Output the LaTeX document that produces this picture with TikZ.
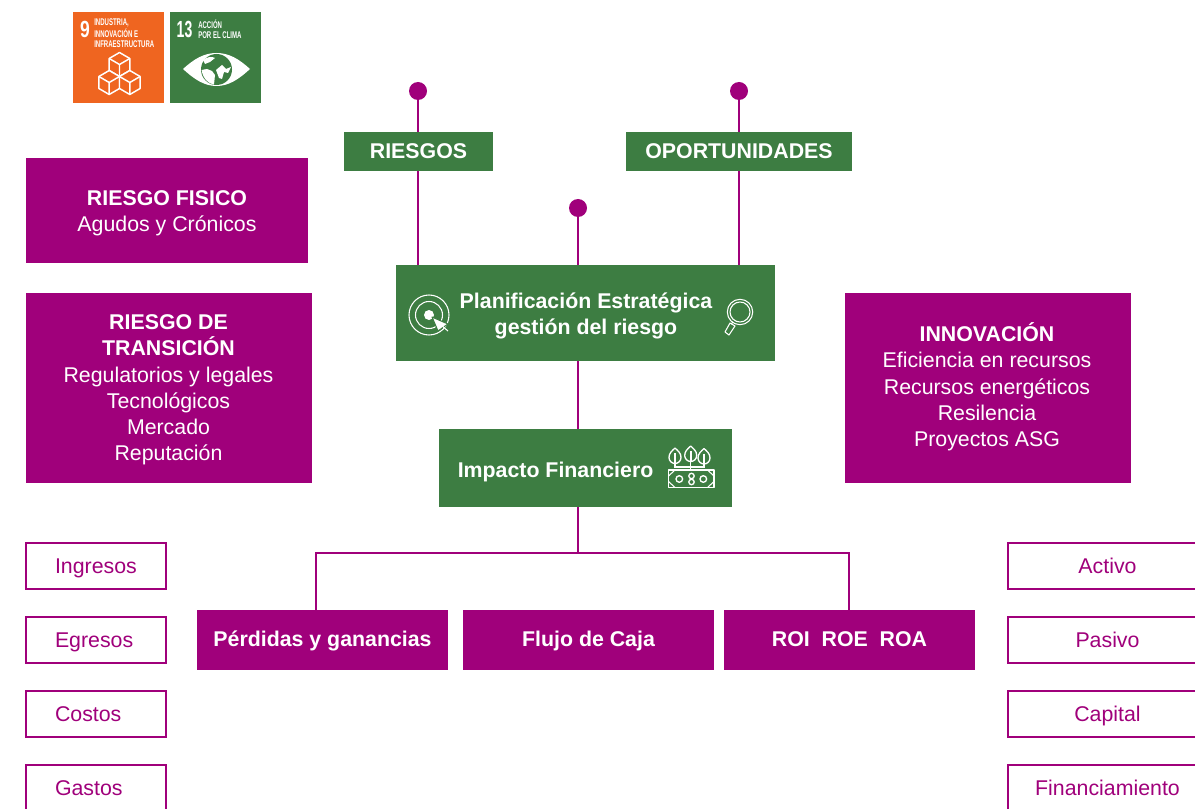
\documentclass[tikz,border=0pt]{standalone}
\usepackage{fontspec}
\usepackage{tikz}
\setmainfont{Liberation Sans}
\usetikzlibrary{positioning}
\definecolor{mpurple}{HTML}{A0007B}
\definecolor{mgreen}{HTML}{3D7D42}
\definecolor{morange}{HTML}{EF6520}
\def\px{0.75pt}
\tikzset{
  boxtext/.style={font=\fontsize{16}{19.7}\selectfont, align=center, inner sep=0pt},
  boldtext/.style={boxtext, text=white, font=\fontsize{16}{19.7}\selectfont\bfseries},
  oneline/.style={text height=11.5pt, text depth=1pt},
  greenbox/.style={boldtext, oneline, fill=mgreen},
  purplebox/.style={boxtext, fill=mpurple, text=white},
  totalbox/.style={boldtext, oneline, text depth=2.5pt, fill=mpurple, minimum width=251*\px, minimum height=60*\px},
  outlinebox/.style={boxtext, oneline, draw=mpurple, line width=1.5pt, text=mpurple, fill=white, minimum height=46*\px},
  leftbox/.style={outlinebox, align=left, text width=82*\px, minimum width=140*\px},
  rightbox/.style={outlinebox, minimum width=199*\px},
  dotnode/.style={circle, fill=mpurple, minimum size=18*\px, inner sep=0pt},
  link/.style={draw=mpurple, line width=1.5pt},
  icon/.style={draw=white, line width=0.8pt},
  sdgtext/.style={text=white, inner sep=0pt, anchor=west, font=\fontsize{7.3}{7.3}\selectfont\bfseries},
  sdgnum/.style={text=white, inner sep=0pt, font=\fontsize{17.5}{17.5}\selectfont\bfseries}
}
\begin{document}
\begin{tikzpicture}[x=0.75pt, y=-0.75pt]
    \clip (0, 0) rectangle (1195, 809);

    % sdg squares
    \fill [morange] (73, 12) rectangle (164, 103);
    \fill [mgreen] (170, 12) rectangle (261, 103);
    \node [sdgnum] at (85, 29.5) {\scalebox{.75}[1]{9}};
    \node [sdgnum] at (184.5, 29.5) {\scalebox{.6}[1]{13}};
    \node [sdgtext] at (94, 23) {\scalebox{.62}[1]{INDUSTRIA,}};
    \node [sdgtext] at (94, 33.5) {\scalebox{.62}[1]{INNOVACIÓN E}};
    \node [sdgtext] at (94, 44) {\scalebox{.62}[1]{INFRAESTRUCTURA}};
    \node [sdgtext] at (198, 24) {\scalebox{.62}[1]{ACCIÓN}};
    \node [sdgtext] at (198, 35) {\scalebox{.62}[1]{POR EL CLIMA}};
    \foreach \cx/\cy in {119.5/64.5, 109.2/82.5, 129.8/82.5} {
      \draw [icon, line width=1.1pt, fill=morange, line join=round] (\cx, \cy-12) -- (\cx+10.3, \cy-6) -- (\cx+10.3, \cy+6) -- (\cx, \cy+12) -- (\cx-10.3, \cy+6) -- (\cx-10.3, \cy-6) -- cycle;
      \draw [icon, line width=1.1pt] (\cx-10.3, \cy-6) -- (\cx, \cy) -- (\cx+10.3, \cy-6) (\cx, \cy) -- (\cx, \cy+12);
    }
    \fill [white] (183, 69) .. controls (194, 59) and (204, 53) .. (216.5, 53) .. controls (229, 53) and (239, 59) .. (250, 69) .. controls (239, 79) and (229, 86) .. (216.5, 86) .. controls (204, 86) and (194, 79) .. (183, 69) -- cycle;
    \fill [mgreen] (216.5, 69.5) circle (15.5);
    \fill [white] (203, 60) .. controls (207, 57) and (212, 56) .. (215, 58) -- (210, 62) -- (205, 64) -- cycle;
    \fill [white] (201.5, 70) -- (207, 69) -- (212, 71) -- (215, 75) -- (214, 84.5) .. controls (208, 84) and (203, 78) .. (201.5, 70) -- cycle;
    \fill [white] (216, 70) -- (222, 65) -- (226, 69) -- (231, 67) -- (228, 73) -- (224, 72) -- (222, 79) -- (219, 78) -- cycle;

    % connector ends
    \node [dotnode] (dotRiesgos) at (418, 91) {};
    \node [dotnode] (dotPlan) at (578, 208) {};
    \node [dotnode] (dotOportunidades) at (739, 91) {};

    % green boxes
    \node [greenbox, minimum width=149*\px, minimum height=39*\px] (riesgos) at (418.5, 151.5) {RIESGOS};
    \node [greenbox, minimum width=226*\px, minimum height=39*\px] (oportunidades) at (739, 151.5) {OPORTUNIDADES};
    \node [greenbox, minimum width=379*\px, minimum height=96*\px] (plan) at (585.5, 313) {};
    \node [boldtext] (planText) at (586, 316) {Planificación Estratégica\\gestión del riesgo};
    \node [greenbox, minimum width=293*\px, minimum height=78*\px] (impacto) at (585.5, 468) {};
    \node [boldtext, oneline, anchor=west] (impactoText) at (457.5, 470) {Impacto Financiero};

    % purple boxes
    \node [purplebox, minimum width=282*\px, minimum height=105*\px] (fisico) at (167, 210.5) {};
    \node [boxtext, text=white] (fisicoText) at (167, 213.5) {\textbf{RIESGO FISICO}\\Agudos y Crónicos};
    \node [purplebox, minimum width=286*\px, minimum height=190*\px] (transicion) at (169, 388) {};
    \node [boxtext, text=white] (transicionText) at (168.5, 390) {\textbf{RIESGO DE}\\\textbf{TRANSICIÓN}\\Regulatorios y legales\\Tecnológicos\\Mercado\\Reputación};
    \node [purplebox, minimum width=286*\px, minimum height=190*\px] (innovacion) at (988, 388) {};
    \node [boxtext, text=white] (innovacionText) at (987, 387) {\textbf{INNOVACIÓN}\\Eficiencia en recursos\\Recursos energéticos\\Resilencia\\Proyectos ASG};
    \node [totalbox] (perdidas) at (322.5, 640) {Pérdidas y ganancias};
    \node [totalbox] (flujo) at (588.5, 640) {Flujo de Caja};
    \node [totalbox] (roi) at (849.5, 640) {ROI\ \ ROE\ \ ROA};

    % side lists
    \node [leftbox] (ingresos) at (96, 566) {Ingresos};
    \node [leftbox] (egresos) at (96, 640) {Egresos};
    \node [leftbox] (costos) at (96, 714) {Costos};
    \node [leftbox] (gastos) at (96, 788) {Gastos};
    \node [rightbox] (activo) at (1107.5, 566) {Activo};
    \node [rightbox] (pasivo) at (1107.5, 640) {Pasivo};
    \node [rightbox] (capital) at (1107.5, 714) {Capital};
    \node [rightbox] (financiamiento) at (1107.5, 788) {Financiamiento};

    % connectors
    \coordinate (tronco) at (578, 553);
    \coordinate (ramaIzq) at (316, 553);
    \coordinate (ramaDer) at (849, 553);
    \draw [link] (dotRiesgos) -- (riesgos.north -| dotRiesgos);
    \draw [link] (riesgos.south -| dotRiesgos) -- (plan.north -| dotRiesgos);
    \draw [link] (dotOportunidades) -- (oportunidades.north -| dotOportunidades);
    \draw [link] (oportunidades.south -| dotOportunidades) -- (plan.north -| dotOportunidades);
    \draw [link] (dotPlan) -- (plan.north -| dotPlan);
    \draw [link] (plan.south -| tronco) -- (impacto.north -| tronco);
    \draw [link] (impacto.south -| tronco) -- (tronco);
    \draw [link] (perdidas.north -| ramaIzq) -- (ramaIzq) -- (ramaDer) -- (roi.north -| ramaDer);

    % target icon
    \draw [icon] (429, 315) circle (20);
    \draw [icon] (429, 315) circle (13.5);
    \fill [white] (429, 315) circle (5);
    \draw [icon, draw=mgreen, fill=white, line join=round] (432, 317) -- (448, 324) -- (438, 331) -- cycle;
    \draw [icon] (441, 325) -- (448, 331);

    % magnifier icon
    \draw [icon] (740, 312) circle (12.7);
    \draw [icon] (740, 312) circle (10);
    \draw [icon] (733, 322) -- (731, 324);
    \draw [icon, line join=round] (730, 323) -- (735, 326) -- (729, 335) -- (725, 332) -- cycle;

    % money icon
    \draw [icon, line width=1pt, line join=round] (668.5, 470) rectangle (714, 487.5);
    \foreach \ax/\ay/\bx/\by in {668.5/476/675/470, 668.5/481.5/675/487.5, 714/476/707.5/470, 714/481.5/707.5/487.5} {
      \draw [icon] (\ax, \ay) -- (\bx, \by);
    }
    \foreach \cx in {679.3, 703.3} {
      \draw [icon, line width=1pt] (\cx, 479) circle (3.3);
    }
    \draw [icon, line width=1pt] (691.5, 476) circle (2.7) (691.5, 482) circle (2.7);
    \foreach \cx/\cy in {675/456, 690.7/454, 704/456.5} {
      \draw [icon, line width=1pt, line join=round] (\cx, \cy-8) .. controls (\cx+3, \cy-5) and (\cx+6, \cy-3) .. (\cx+6, \cy+1.5) .. controls (\cx+6, \cy+5) and (\cx+3, \cy+7.5) .. (\cx, \cy+7.5) .. controls (\cx-3, \cy+7.5) and (\cx-6, \cy+5) .. (\cx-6, \cy+1.5) .. controls (\cx-6, \cy-3) and (\cx-3, \cy-5) .. (\cx, \cy-8) -- cycle;
      \draw [icon, line width=1.2pt] (\cx, \cy-3) -- (\cx, \cy+7.5);
    }
    \draw [icon] (675, 463.5) -- (675, 467) -- (704, 467) -- (704, 464) (690.7, 461.5) -- (690.7, 470);
  \end{tikzpicture}
\end{document}
